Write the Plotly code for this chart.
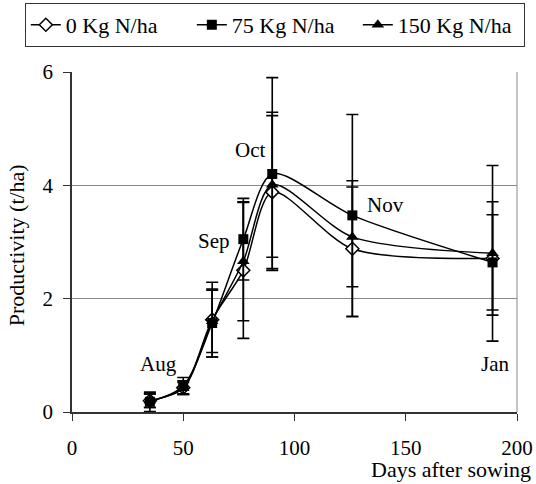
import plotly.graph_objects as go

days = [35, 50, 63, 77, 90, 126, 189]
series_names = ["0 Kg N/ha", "75 Kg N/ha", "150 Kg N/ha"]
prod_0 = [0.20, 0.43, 1.63, 2.50, 3.88, 2.88, 2.71]
prod_75 = [0.18, 0.46, 1.57, 3.05, 4.20, 3.47, 2.64]
prod_150 = [0.20, 0.42, 1.60, 2.66, 4.01, 3.09, 2.80]
err_0 = [0.12, 0.12, 0.66, 1.20, 1.35, 1.20, 1.00]
err_75 = [0.17, 0.15, 0.60, 0.72, 1.70, 1.78, 0.84]
err_150 = [0.12, 0.10, 0.55, 1.05, 1.28, 0.88, 1.55]
month_labels = ["Aug", "Sep", "Oct", "Nov", "Jan"]
month_x = [39, 64, 80, 141, 190]
month_y = [0.84, 3.01, 4.62, 3.65, 0.84]
x_ticks = [0, 50, 100, 150, 200]
y_ticks = [0, 2, 4, 6]

FONT = "Liberation Serif"
BLACK = "#000000"
FS = 21
FS_BIG = 22

fig = go.Figure()

styles = [
    dict(symbol="diamond", size=10, color="white", line=dict(color=BLACK, width=1.5)),
    dict(symbol="square", size=10, color=BLACK, line=dict(color=BLACK, width=0)),
    dict(symbol="triangle-up", size=11, color=BLACK, line=dict(color=BLACK, width=0)),
]
values = [prod_0, prod_75, prod_150]
errors = [err_0, err_75, err_150]

for name, vals, errs, mk in zip(series_names, values, errors, styles):
    fig.add_trace(go.Scatter(
        x=days, y=vals, name=name, mode="lines+markers",
        line=dict(color=BLACK, width=1.5, shape="spline", smoothing=0.8),
        marker=mk,
        error_y=dict(type="data", array=errs, visible=True, color=BLACK,
                     thickness=1.6, width=6),
    ))

for txt, mx, my in zip(month_labels, month_x, month_y):
    fig.add_annotation(x=mx, y=my, text=txt, showarrow=False,
                       font=dict(family=FONT, size=FS, color=BLACK))

fig.add_annotation(xref="paper", yref="paper", x=1.036, y=-0.169,
                   xanchor="right", yanchor="middle", text="Days after sowing",
                   showarrow=False, font=dict(family=FONT, size=FS_BIG, color=BLACK))
fig.add_annotation(xref="paper", yref="paper", x=-0.124, y=0.49,
                   xanchor="center", yanchor="middle", textangle=-90,
                   text="Productivity (t/ha)", showarrow=False,
                   font=dict(family=FONT, size=FS_BIG, color=BLACK))

fig.add_shape(type="line", xref="paper", yref="paper", x0=1, x1=1, y0=0, y1=1,
              line=dict(color="#888888", width=1))

fig.update_layout(
    width=536, height=484,
    margin=dict(l=72, r=19, t=72, b=71.5, autoexpand=False),
    paper_bgcolor="white", plot_bgcolor="white",
    font=dict(family=FONT, size=FS, color=BLACK),
    showlegend=True,
    legend=dict(orientation="h", xref="paper", yref="paper",
                x=-0.106, y=1.203, xanchor="left", yanchor="top",
                bordercolor="#333333", borderwidth=1, bgcolor="white",
                font=dict(family=FONT, size=FS_BIG, color=BLACK),
                entrywidth=121, entrywidthmode="pixels",
                itemwidth=30, tracegroupgap=0),
    xaxis=dict(range=[0, 200], tickvals=x_ticks, ticks="outside", ticklen=7,
               tickcolor="#333333", showline=True, linecolor="#333333",
               linewidth=1.5, showgrid=False, zeroline=False,
               ticklabelstandoff=9),
    yaxis=dict(range=[0, 6], tickvals=y_ticks, ticks="outside", ticklen=7,
               tickcolor="#333333", showline=True, linecolor="#333333",
               linewidth=1.5, showgrid=True, gridcolor="#888888", gridwidth=1,
               zeroline=False, ticklabelstandoff=6),
)

fig.write_html("out.html", config={"displayModeBar": False},
               post_script="document.body.style.margin='0px';document.body.style.padding='0px';")
